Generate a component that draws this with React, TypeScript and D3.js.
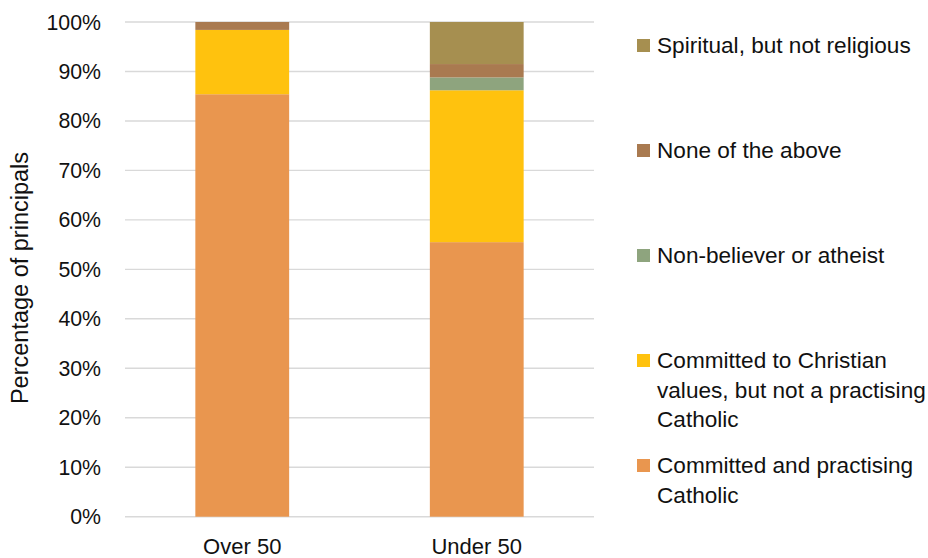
import React from "react";
import * as d3 from "d3";

const categories = ["Over 50", "Under 50"];
const seriesNames = [
  "Committed and practising Catholic",
  "Committed to Christian values, but not a practising Catholic",
  "Non-believer or atheist",
  "None of the above",
  "Spiritual, but not religious",
];
const practising = [85.4, 55.5];
const christianValues = [13.0, 30.7];
const nonBeliever = [0, 2.6];
const noneAbove = [1.6, 2.7];
const spiritual = [0, 8.5];
const seriesValues = [practising, christianValues, nonBeliever, noneAbove, spiritual];
const seriesColors = ["#E9964F", "#FFC20E", "#8EA47E", "#A97A50", "#A68F50"];
// legend label lines (top to bottom order of legend = reverse of stack)
const legendLines: string[][] = [
  ["Spiritual, but not religious"],
  ["None of the above"],
  ["Non-believer or atheist"],
  ["Committed to Christian", "values, but not a practising", "Catholic"],
  ["Committed and practising", "Catholic"],
];
const yTicks = [0, 10, 20, 30, 40, 50, 60, 70, 80, 90, 100];
const yTitle = "Percentage of principals";

const W = 928;
const H = 558;
const FONT = "'Liberation Sans', Arial, sans-serif";

export default function App() {
  const x = d3
    .scaleBand<string>()
    .domain(categories)
    .range([125, 594])
    .paddingInner(0.6)
    .paddingOuter(0.3);
  const y = d3.scaleLinear().domain([0, 100]).range([516.7, 22]);

  const rows = categories.map((c, i) => {
    const r: any = { cat: c };
    seriesNames.forEach((s, j) => (r[s] = seriesValues[j][i]));
    return r;
  });
  const stacked = d3.stack<any>().keys(seriesNames)(rows);

  return (
    <div style={{ position: "absolute", left: 0, top: 0, margin: 0 }}>
      <svg width={W} height={H} style={{ display: "block", background: "#fff" }}>
        {yTicks.map((t) => (
          <line
            key={"g" + t}
            x1={125}
            x2={594}
            y1={y(t)}
            y2={y(t)}
            stroke="#D9D9D9"
            strokeWidth={1.4}
          />
        ))}
        {yTicks.map((t) => (
          <text
            key={"t" + t}
            x={101}
            y={y(t) + 7.5}
            textAnchor="end"
            fontFamily={FONT}
            fontSize={21.3}
            fill="#111"
          >
            {t + "%"}
          </text>
        ))}
        <text
          transform={`translate(28, ${(148 + 408) / 2}) rotate(-90)`}
          textAnchor="middle"
          fontFamily={FONT}
          fontSize={23.5}
          fill="#111"
        >
          {yTitle}
        </text>
        {stacked.map((layer, j) => (
          <g key={"s" + j} fill={seriesColors[j]}>
            {layer.map((d, i) =>
              d[1] - d[0] > 0 ? (
                <rect
                  key={i}
                  x={x(categories[i])}
                  width={x.bandwidth()}
                  y={y(d[1])}
                  height={y(d[0]) - y(d[1])}
                />
              ) : null
            )}
          </g>
        ))}
        {categories.map((c) => (
          <text
            key={"x" + c}
            x={(x(c) as number) + x.bandwidth() / 2}
            y={554}
            textAnchor="middle"
            fontFamily={FONT}
            fontSize={22}
            fill="#111"
          >
            {c}
          </text>
        ))}
        {legendLines.map((lines, i) => {
          const base = 53 + 105 * i;
          const colorIdx = seriesNames.length - 1 - i;
          return (
            <g key={"l" + i}>
              <rect x={637} y={base - 14} width={13} height={13} fill={seriesColors[colorIdx]} />
              <text x={657} y={base} fontFamily={FONT} fontSize={22.6} fill="#111">
                {lines.map((ln, k) => (
                  <tspan key={k} x={657} y={base + k * 29.7}>
                    {ln}
                  </tspan>
                ))}
              </text>
            </g>
          );
        })}
      </svg>
    </div>
  );
}
